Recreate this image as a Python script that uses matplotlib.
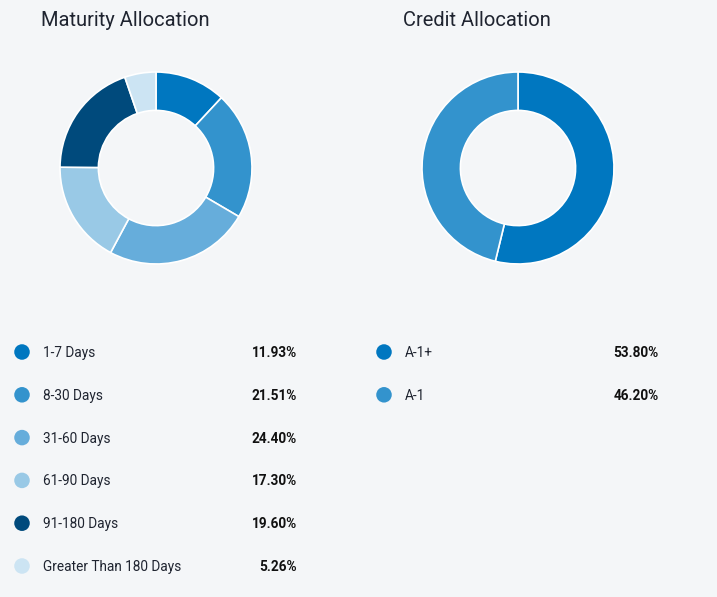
import matplotlib.pyplot as plt

plt.rcParams['font.family'] = ['Roboto', 'DejaVu Sans']

# maturity data
maturity_labels = ["1-7 Days", "8-30 Days", "31-60 Days", "61-90 Days",
                   "91-180 Days", "Greater Than 180 Days"]
maturity_values = [11.93, 21.51, 24.40, 17.30, 19.60, 5.26]
maturity_colors = ["#0077c0", "#3393cd", "#66addb", "#99c9e6", "#004a7c", "#cce4f3"]

# credit data
credit_labels = ["A-1+", "A-1"]
credit_values = [53.80, 46.20]
credit_colors = ["#0077c0", "#3393cd"]

bg = "#f4f6f8"
txt = "#1f2430"
W, H = 717, 597

fig = plt.figure(figsize=(W / 100, H / 100), dpi=100, facecolor=bg)

# full-figure axes in pixel coords for titles and legend
base = fig.add_axes([0, 0, 1, 1])
base.set_xlim(0, W)
base.set_ylim(H, 0)
base.axis("off")
base.set_facecolor(bg)


def donut(cx, cy, r, values, colors):
    ax = fig.add_axes([(cx - r) / W, 1 - (cy + r) / H, 2 * r / W, 2 * r / H])
    ax.pie(values, colors=colors, startangle=90, counterclock=False,
           wedgeprops=dict(width=0.4, edgecolor="white", linewidth=1.2))
    ax.set_xlim(-1, 1)
    ax.set_ylim(-1, 1)
    ax.set_aspect("equal")
    ax.axis("off")


donut(156, 168, 96, maturity_values, maturity_colors)
donut(518, 168, 96, credit_values, credit_colors)

base.text(41, 21, "Maturity Allocation", fontsize=14.5, color=txt, va="center", ha="left")
base.text(403, 21, "Credit Allocation", fontsize=14.5, color=txt, va="center", ha="left")


def legend(x_dot, x_text, x_pct, y0, labels, values, colors):
    for i in range(len(labels)):
        y = y0 + i * 42.8
        base.scatter([x_dot], [y], s=125, color=colors[i], edgecolors="none")
        base.text(x_text, y + 1, labels[i], fontsize=9.8, color=txt, va="center", ha="left")
        base.text(x_pct, y + 1, "%.2f%%" % values[i], fontsize=9.8, color="#111111",
                  fontweight="bold", va="center", ha="right")


legend(22, 43, 297, 352, maturity_labels, maturity_values, maturity_colors)
legend(384, 405, 659, 352, credit_labels, credit_values, credit_colors)

fig.savefig("out.png", dpi=100, facecolor=bg)
